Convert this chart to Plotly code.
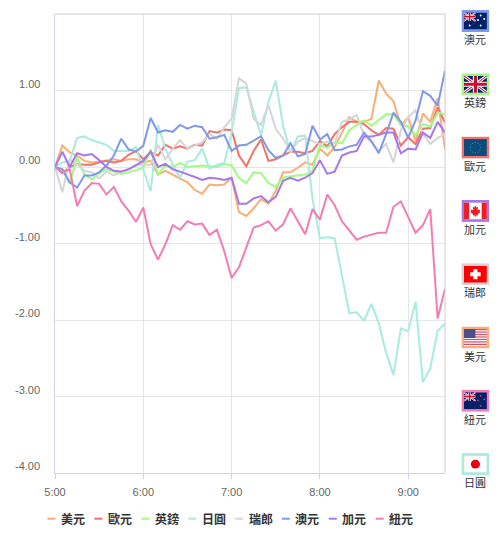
import base64
import plotly.graph_objects as go

hours = ["5:00", "6:00", "7:00", "8:00", "9:00"]
hour_stamps = ["2024-01-01 05:00", "2024-01-01 06:00", "2024-01-01 07:00", "2024-01-01 08:00", "2024-01-01 09:00"]
y_ticks = [1, 0, -1, -2, -3, -4]

usd = [0,.28,.19,.15,.08,.06,.07,.09,.10,.08,.10,.10,.06,.08,-.10,-.05,-.10,-.15,-.20,-.30,-.35,-.23,-.24,-.23,-.14,-.59,-.64,-.54,-.42,-.48,-.31,-.07,-.07,-.01,.06,.03,.24,.15,.26,.45,.65,.59,.59,.63,1.13,.96,.86,.54,.65,.34,.70,.59,.90,.23]
eur = [0,-.08,0,.04,.03,.03,.06,.08,.06,.08,.16,.21,.10,.19,.15,.29,.24,.27,.24,.29,.28,.47,.45,.49,.48,.15,.01,.21,.36,.08,.10,.15,.20,.20,.18,.21,.34,.27,.43,.52,.59,.59,.56,.48,.42,.51,.50,.28,.39,.30,.50,.51,.78,.58]
gbp = [0,-.03,-.22,.13,-.10,-.16,-.08,-.03,-.06,-.09,-.07,-.04,-.01,.23,-.10,.02,0,.05,0,.01,.02,.01,0,.04,.02,-.14,-.21,-.07,-.08,-.21,-.26,-.14,-.12,-.11,-.10,-.05,.29,.25,.32,.31,.48,.55,.61,.54,.62,.69,.69,.55,.53,.42,.56,.53,.71,.69]
jpy = [0,.06,.08,.38,.40,.35,.32,.29,.21,.21,.21,.26,-.03,-.32,.55,.24,.03,-.14,.07,.09,.24,-.02,.03,.05,.45,1.03,1.04,.72,.41,.85,1.13,.54,.19,.40,.41,-.42,-.93,-.92,-.93,-1.42,-1.91,-1.90,-2.01,-1.79,-2.04,-2.43,-2.72,-2.11,-2.15,-1.76,-2.81,-2.63,-2.14,-2.05]
chf = [0,-.33,.10,.04,-.05,-.07,-.15,-.06,-.11,-.06,-.03,.02,.03,.03,.29,.10,.24,.35,.24,.28,.32,.43,.37,.52,.63,1.16,1.09,.63,.55,.81,.50,.37,.20,.33,.38,.34,.30,.33,.31,.59,.62,.68,.41,.32,.21,.30,.06,.48,.65,.74,.43,.30,.38,.43]
aud = [0,-.03,-.20,-.27,-.11,-.11,-.07,.02,.15,.37,.23,.20,.28,.64,.45,.48,.46,.55,.50,.54,.52,.37,.39,.42,.21,.28,.29,.34,.40,.22,.12,.15,.31,.14,.17,.54,.36,.43,.22,.23,.27,.29,.45,.34,.18,.43,.71,.59,.38,.61,.99,.93,.80,1.26]
cad = [0,.20,0,.18,.15,.17,.09,0,-.05,-.06,-.03,.02,.08,.20,0,.04,-.03,-.06,-.09,-.13,-.17,-.14,-.15,-.17,-.14,-.48,-.48,-.41,-.38,-.46,-.39,-.18,-.14,-.18,-.14,-.08,.09,-.09,-.06,.15,.19,.21,.40,.40,.42,.45,.45,.18,.24,.23,.45,.38,.59,.45]
nzd = [0,-.07,-.03,-.51,-.31,-.21,-.22,-.36,-.26,-.45,-.57,-.72,-.53,-1.01,-1.21,-1.01,-.76,-.82,-.71,-.75,-.74,-.89,-.82,-1.10,-1.45,-1.31,-1.05,-.79,-.76,-.71,-.83,-.75,-.54,-.71,-.88,-.55,-.69,-.36,-.50,-.71,-.83,-.95,-.91,-.88,-.86,-.86,-.52,-.45,-.66,-.86,-.76,-.55,-1.98,-1.59]

names = ["美元", "歐元", "英鎊", "日圓", "瑞郎", "澳元", "加元", "紐元"]
series = [usd, eur, gbp, jpy, chf, aud, cad, nzd]
colors = ["#F9AE78", "#F0726B", "#A0FC80", "#A8EBE0", "#D5D5D5", "#8098E8", "#A878E8", "#F47CB4"]

times = [f"2024-01-01 {5 + (i * 5) // 60:02d}:{(i * 5) % 60:02d}" for i in range(54)]

W, H = 500, 546
L, R, T, B = 54.5, 445.5, 14, 473
px = lambda v: (v - L) / (R - L)
py = lambda v: (B - v) / (B - T)
CJK = "Noto Sans CJK TC, Noto Sans CJK SC, sans-serif"
LATIN = "Liberation Sans, Arial, sans-serif"

fig = go.Figure()
for name, vals, col in zip(names, series, colors):
    fig.add_trace(go.Scatter(x=times, y=vals, mode="lines", name=name,
                             line=dict(color=col, width=2), showlegend=False,
                             hovertemplate="%{y:.2f}<extra>" + name + "</extra>"))

annotations = []
shapes = [
    dict(type="line", xref="paper", yref="paper", x0=0, x1=1, y0=1, y1=1, line=dict(color="#cccccc", width=1)),
    dict(type="line", xref="paper", yref="paper", x0=1, x1=1, y0=0, y1=1, line=dict(color="#cccccc", width=1)),
]
for v in y_ticks:
    annotations.append(dict(xref="paper", yref="y", x=px(41), y=v, yshift=7, text=f"{v:.2f}", showarrow=False,
                            xanchor="right", yanchor="middle", font=dict(family=LATIN, size=11, color="#666666")))

# legend row
for i, (name, col) in enumerate(zip(names, colors)):
    x0 = 47 + 47 * i
    shapes.append(dict(type="line", xref="paper", yref="paper", x0=px(x0), x1=px(x0 + 8), y0=py(518.7), y1=py(518.7),
                       line=dict(color=col, width=2)))
    annotations.append(dict(xref="paper", yref="paper", x=px(x0 + 11.5), y=py(518.5), text=f"<b>{name}</b>", showarrow=False,
                            xanchor="left", yanchor="middle", font=dict(family=CJK, size=12, color="#333333")))

CANTON = ('<rect width="11" height="8.5" fill="#012169"/>'
          '<path d="M0 0L11 8.5M11 0L0 8.5" stroke="#fff" stroke-width="1.6"/>'
          '<path d="M0 0L11 8.5M11 0L0 8.5" stroke="#C8102E" stroke-width=".6"/>'
          '<path d="M5.5 0V8.5M0 4.25H11" stroke="#fff" stroke-width="2.6"/>'
          '<path d="M5.5 0V8.5M0 4.25H11" stroke="#C8102E" stroke-width="1.4"/>')
def stars(col, pts, r=.8):
    return "".join(f'<circle cx="{a}" cy="{b}" r="{r}" fill="{col}"/>' for a, b in pts)
ring = [(11 + 5 * c, 8.5 + 5 * s) for c, s in [(1,0),(.87,.5),(.5,.87),(0,1),(-.5,.87),(-.87,.5),(-1,0),(-.87,-.5),(-.5,-.87),(0,-1),(.5,-.87),(.87,-.5)]]
us_stripes = "".join(f'<rect y="{i * 16 / 13:.2f}" width="22" height="{16 / 13:.2f}" fill="#D0506A"/>' for i in range(0, 13, 2))
inner = {
    "澳元": '<rect width="22" height="17" fill="#012169"/>' + CANTON + stars("#fff", [(5.5, 13), (16, 3), (19.5, 6.5), (16, 13), (13.5, 7.5)], .9),
    "英鎊": '<rect width="22" height="17" fill="#012169"/><path d="M0 0L22 17M22 0L0 17" stroke="#fff" stroke-width="3"/>'
            '<path d="M0 0L22 17M22 0L0 17" stroke="#C8102E" stroke-width="1"/><path d="M11 0V17M0 8.5H22" stroke="#fff" stroke-width="5"/>'
            '<path d="M11 0V17M0 8.5H22" stroke="#C8102E" stroke-width="3"/>',
    "歐元": '<rect width="22" height="17" fill="#0B4C7E"/>' + stars("#6F8F5A", ring, .5),
    "加元": '<rect width="22" height="17" fill="#fff"/><rect width="5" height="17" fill="#EE1C25"/><rect x="17" width="5" height="17" fill="#EE1C25"/>'
            '<path d="M11 3L12 5.2L13.6 4.6L13 7.6L15.6 7L15 8.8L16 9.6L13.2 11.8L13.4 13H11.3V14.6H10.7V13H8.6L8.8 11.8L6 9.6L7 8.8L6.4 7L9 7.6L8.4 4.6L10 5.2Z" fill="#EE1C25"/>',
    "瑞郎": '<rect width="22" height="17" fill="#FF0000"/><path d="M9 3.5H13V6.5H16V10.5H13V13.5H9V10.5H6V6.5H9Z" fill="#fff"/>',
    "美元": '<rect width="22" height="17" fill="#fff"/>' + us_stripes + '<rect width="11" height="9" fill="#4A4F8C"/>',
    "紐元": '<rect width="22" height="17" fill="#012169"/>' + CANTON + stars("#E0405A", [(16, 3.5), (19.5, 7), (13.5, 8), (16, 13.5)], .9),
    "日圓": '<rect width="22" height="17" fill="#F4F4F4"/><rect x="1" y="1" width="20" height="15" fill="#fff"/><circle cx="11" cy="8.5" r="4.4" fill="#E60012"/>',
}
flag_order = ["澳元", "英鎊", "歐元", "加元", "瑞郎", "美元", "紐元", "日圓"]
images = []
for i, name in enumerate(flag_order):
    col = colors[names.index(name)]
    top = 10 + 63.3 * i
    svg = (f'<svg xmlns="http://www.w3.org/2000/svg" width="28" height="22" viewBox="0 0 28 22" preserveAspectRatio="none">'
           f'<rect width="28" height="22" fill="{col}"/><svg x="2.5" y="2.5" width="23" height="17" viewBox="0 0 22 17" preserveAspectRatio="none">{inner[name]}</svg></svg>')
    uri = "data:image/svg+xml;base64," + base64.b64encode(svg.encode()).decode()
    images.append(dict(source=uri, xref="paper", yref="paper", x=px(462), y=py(top), sizex=28 / (R - L), sizey=22 / (B - T),
                       xanchor="left", yanchor="top", sizing="stretch", layer="above"))
    annotations.append(dict(xref="paper", yref="paper", x=px(476), y=py(top + 29), text=name, showarrow=False,
                            xanchor="center", yanchor="middle", font=dict(family=CJK, size=11, color="#333333")))

fig.update_layout(
    width=W, height=H, margin=dict(l=L, r=W - R, t=T, b=H - B, pad=0, autoexpand=False),
    paper_bgcolor="white", plot_bgcolor="white", showlegend=False,
    annotations=annotations, shapes=shapes, images=images,
    xaxis=dict(type="date", range=[times[0], times[-1]], tickmode="array", tickvals=hour_stamps, ticktext=hours,
               showgrid=True, gridcolor="#e6e6e6", gridwidth=1, zeroline=False,
               showline=True, linecolor="#ccd6eb", linewidth=1, ticks="outside", ticklen=5, tickcolor="#ccd6eb",
               ticklabelstandoff=4,
               tickfont=dict(family=LATIN, size=11, color="#666666")),
    yaxis=dict(range=[-4, 2], tickmode="array", tickvals=y_ticks, showticklabels=False,
               showgrid=True, gridcolor="#e6e6e6", gridwidth=1, zeroline=False,
               showline=True, linecolor="#ccd6eb", linewidth=1, ticks=""),
)
fig.write_html("out.html", config={"displayModeBar": False},
               post_script="document.body.style.margin='0';document.body.style.overflow='hidden';")
